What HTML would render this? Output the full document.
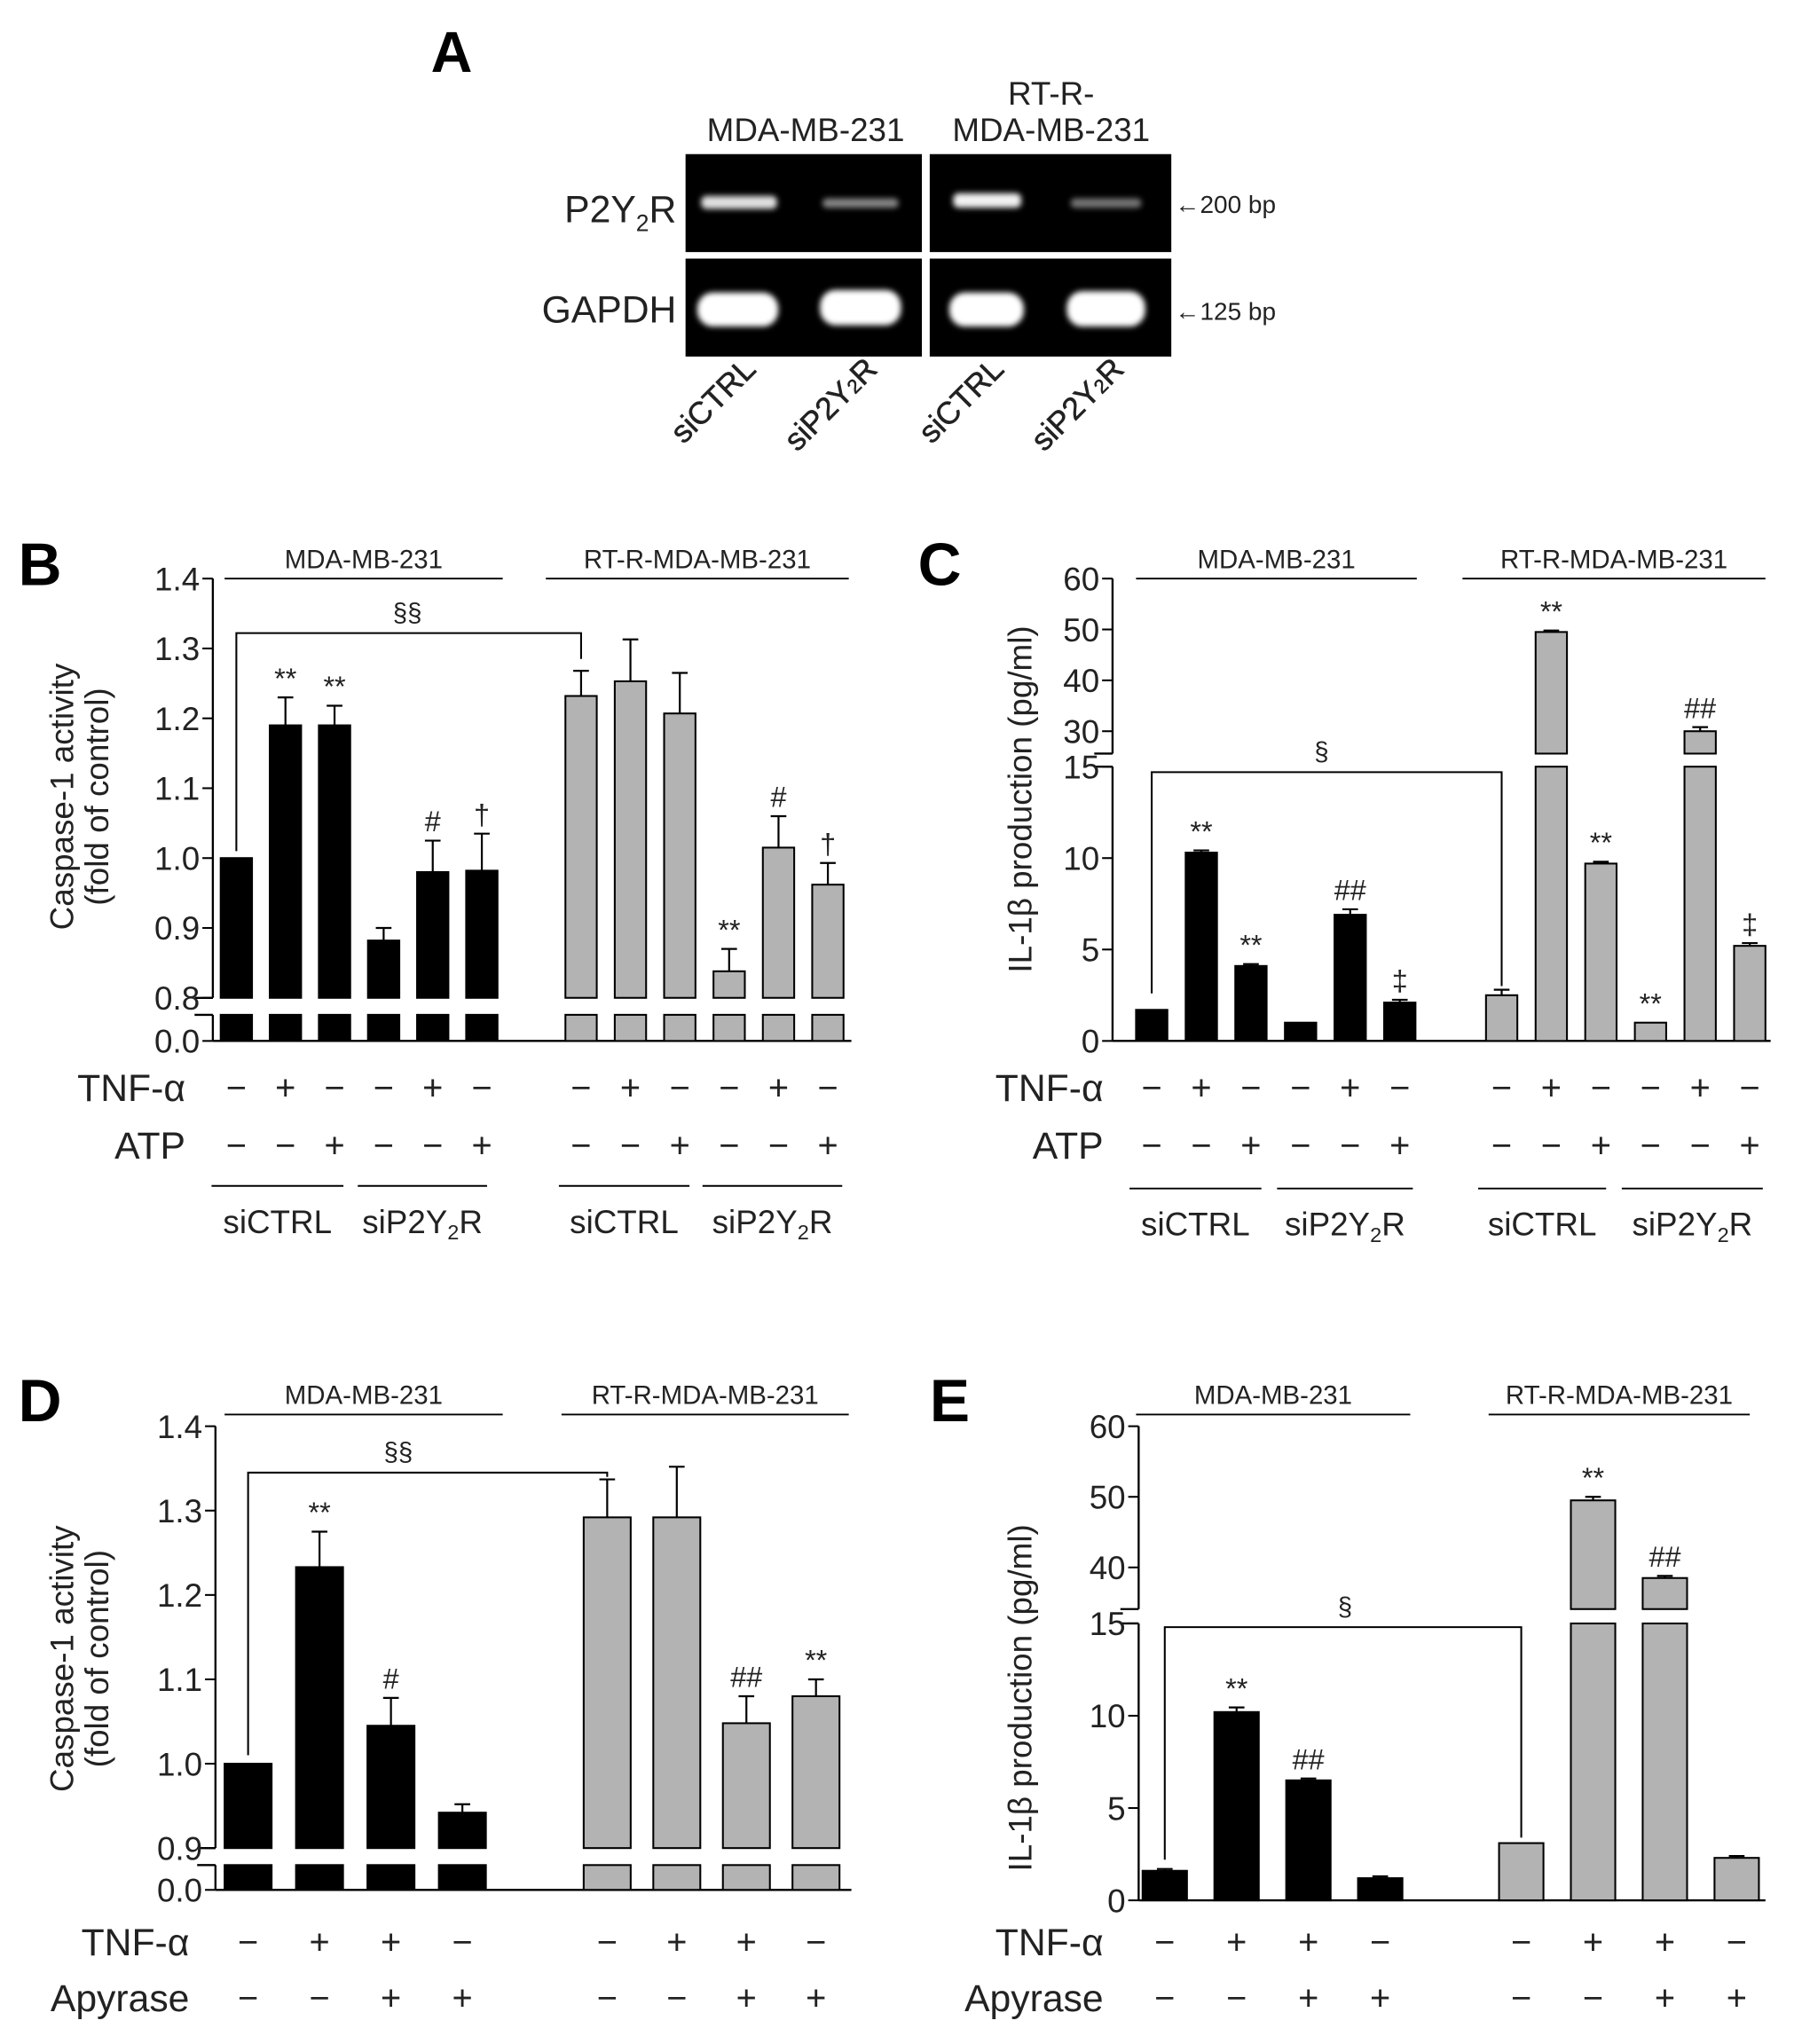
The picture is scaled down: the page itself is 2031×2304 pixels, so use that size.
<!DOCTYPE html>
<html><head><meta charset="utf-8">
<style>
html,body{margin:0;padding:0;background:#fff;}
svg{display:block;font-family:"Liberation Sans",Arial,sans-serif;}
</style></head>
<body>
<svg id="fig" width="2031" height="2304" viewBox="0 0 1380 1565" preserveAspectRatio="none" xmlns="http://www.w3.org/2000/svg">
<defs>
<filter id="blur" x="-30%" y="-80%" width="160%" height="260%"><feGaussianBlur stdDeviation="2.2"/></filter>
</defs>
<g>
<text x="330" y="55" font-size="44" font-weight="bold">A</text>
<text x="617" y="108" font-size="25" text-anchor="middle" fill="#222">MDA-MB-231</text>
<text x="805" y="80" font-size="25" text-anchor="middle" fill="#222">RT-R-</text>
<text x="805" y="108" font-size="25" text-anchor="middle" fill="#222">MDA-MB-231</text>
<rect x="525" y="118" width="181" height="75" fill="#000"/>
<rect x="712" y="118" width="185" height="75" fill="#000"/>
<rect x="525" y="198" width="181" height="75" fill="#000"/>
<rect x="712" y="198" width="185" height="75" fill="#000"/>
<g filter="url(#blur)">
<rect x="537" y="150" width="58" height="10" rx="4" fill="#e0e0e0"/>
<rect x="630" y="152" width="58" height="7" rx="3" fill="#888"/>
<rect x="730" y="148" width="52" height="11" rx="4" fill="#f2f2f2"/>
<rect x="820" y="152" width="54" height="7" rx="3" fill="#777"/>
<rect x="534" y="224" width="62" height="26" rx="12" fill="#fff"/>
<rect x="628" y="222" width="62" height="27" rx="12" fill="#fff"/>
<rect x="727" y="224" width="57" height="26" rx="12" fill="#fff"/>
<rect x="817" y="223" width="60" height="27" rx="12" fill="#fff"/>
</g>
<text x="518" y="170" font-size="29" text-anchor="end" fill="#222">P2Y<tspan font-size="18" dy="7">2</tspan><tspan dy="-7">R</tspan></text>
<text x="518" y="247" font-size="29" text-anchor="end" fill="#222">GAPDH</text>
<text x="900" y="163" font-size="19" fill="#222">←200 bp</text>
<text x="900" y="245" font-size="19" fill="#222">←125 bp</text>
<text transform="translate(580,284) rotate(-45)" font-size="24" text-anchor="end" fill="#222" stroke="#222" stroke-width="0.4">siCTRL</text>
<text transform="translate(673,284) rotate(-45)" font-size="24" text-anchor="end" fill="#222" stroke="#222" stroke-width="0.4">siP2Y<tspan font-size="15">2</tspan>R</text>
<text transform="translate(770,284) rotate(-45)" font-size="24" text-anchor="end" fill="#222" stroke="#222" stroke-width="0.4">siCTRL</text>
<text transform="translate(862,284) rotate(-45)" font-size="24" text-anchor="end" fill="#222" stroke="#222" stroke-width="0.4">siP2Y<tspan font-size="15">2</tspan>R</text>
</g>
<g id="charts"></g>
</svg>
<script>
// ---------- Panel B data (Caspase-1, siRNA) ----------
const bValues = [1.0, 1.19, 1.19, 0.882, 0.98, 0.982, 1.232, 1.253, 1.207, 0.838, 1.015, 0.962];
const bErrors = [0, 0.04, 0.028, 0.018, 0.045, 0.053, 0.036, 0.06, 0.058, 0.032, 0.045, 0.031];
const bMarks = ['', '**', '**', '', '#', '†', '', '', '', '**', '#', '†'];
const bTnf = ['−','+','−','−','+','−','−','+','−','−','+','−'];
const bAtp = ['−','−','+','−','−','+','−','−','+','−','−','+'];
const bTicks = [0.0, 0.8, 0.9, 1.0, 1.1, 1.2, 1.3, 1.4];
const bTickLabels = ['0.0','0.8','0.9','1.0','1.1','1.2','1.3','1.4'];
// ---------- Panel C data (IL-1b, siRNA) ----------
const cValues = [1.7, 10.3, 4.1, 1.0, 6.9, 2.1, 2.5, 49.5, 9.7, 1.0, 30.0, 5.2];
const cErrors = [0, 0.12, 0.1, 0, 0.3, 0.15, 0.3, 0.3, 0.1, 0, 0.8, 0.15];
const cMarks = ['', '**', '**', '', '##', '‡', '', '**', '**', '**', '##', '‡'];
const cTnf = ['−','+','−','−','+','−','−','+','−','−','+','−'];
const cAtp = ['−','−','+','−','−','+','−','−','+','−','−','+'];
const cTicks = [0, 5, 10, 15, 30, 40, 50, 60];
const cTickLabels = ['0','5','10','15','30','40','50','60'];
// ---------- Panel D data (Caspase-1, apyrase) ----------
const dValues = [1.0, 1.233, 1.045, 0.942, 1.292, 1.292, 1.048, 1.08];
const dErrors = [0, 0.042, 0.033, 0.01, 0.045, 0.06, 0.032, 0.02];
const dMarks = ['', '**', '#', '', '', '', '##', '**'];
const dTnf = ['−','+','+','−','−','+','+','−'];
const dApy = ['−','−','+','+','−','−','+','+'];
const dTicks = [0.0, 0.9, 1.0, 1.1, 1.2, 1.3, 1.4];
const dTickLabels = ['0.0','0.9','1.0','1.1','1.2','1.3','1.4'];
// ---------- Panel E data (IL-1b, apyrase) ----------
const eValues = [1.6, 10.2, 6.5, 1.2, 3.1, 49.5, 38.5, 2.3];
const eErrors = [0.1, 0.25, 0.1, 0.1, 0, 0.5, 0.3, 0.1];
const eMarks = ['', '**', '##', '', '', '**', '##', ''];
const eTnf = ['−','+','+','−','−','+','+','−'];
const eApy = ['−','−','+','+','−','−','+','+'];
const eTicks = [0, 5, 10, 15, 40, 50, 60];
const eTickLabels = ['0','5','10','15','40','50','60'];

const NS = 'http://www.w3.org/2000/svg';
const root = document.getElementById('charts');
function mk(tag, attrs, parent, txt) {
  const e = document.createElementNS(NS, tag);
  for (const k in attrs) e.setAttribute(k, attrs[k]);
  if (txt !== undefined) e.textContent = txt;
  (parent || root).appendChild(e);
  return e;
}
function makeScale(pieces) {
  return function (v) {
    let p = pieces[0];
    for (const q of pieces) if (v >= q.v0 && v <= q.v1) p = q;
    if (v > pieces[pieces.length - 1].v1) p = pieces[pieces.length - 1];
    return p.y0 + (v - p.v0) / (p.v1 - p.v0) * (p.y1 - p.y0);
  };
}
function pieceY(p, v) { return p.y0 + (v - p.v0) / (p.v1 - p.v0) * (p.y1 - p.y0); }
function drawPanel(cfg) {
  const g = mk('g', {});
  
  
  const y = makeScale(cfg.pieces);
  const L = mk('text', {x: cfg.letterX, y: cfg.letterY, 'font-size': 46, 'font-weight': 'bold'}, g, cfg.letter);
  
  
  cfg.pieces.forEach((p, i) => {
    const ln = mk('line', {x1: cfg.axisX, x2: cfg.axisX, y1: p.y0, y2: p.y1, stroke: '#000', 'stroke-width': 1.6}, g);
    
    
    if (i > 0) {
      const c1 = mk('line', {x1: cfg.axisX - 14, x2: cfg.axisX, y1: p.y0, y2: p.y0, stroke: '#000', 'stroke-width': 1.6}, g);
      
      
    }
    if (i < cfg.pieces.length - 1) {
      const c2 = mk('line', {x1: cfg.axisX - 14, x2: cfg.axisX, y1: p.y1, y2: p.y1, stroke: '#000', 'stroke-width': 1.6}, g);
      
      
    }
  });
  const xa = mk('line', {x1: cfg.axisX, x2: cfg.axisEnd, y1: y(0), y2: y(0), stroke: '#000', 'stroke-width': 1.6}, g);
  
  
  cfg.ticks.forEach((t, i) => {
    const ty = y(t);
    const tk = mk('line', {x1: cfg.axisX - 8, x2: cfg.axisX, y1: ty, y2: ty, stroke: '#000', 'stroke-width': 1.4}, g);
    
    
    const tl = mk('text', {x: cfg.axisX - 10, y: ty + 9, 'font-size': 25, 'text-anchor': 'end', fill: '#222'}, g, cfg.tickLabels[i]);
    
    
  });
  cfg.yTitle.forEach((t, i) => {
    const tt = mk('text', {transform: `translate(${cfg.yTitleX + i * 27},${cfg.yTitleY}) rotate(-90)`, 'font-size': 25, 'text-anchor': 'middle', fill: '#222'}, g, t);
    
    
  });
  cfg.headers.forEach(h => {
    const ht = mk('text', {x: (h.x1 + h.x2) / 2, y: cfg.headerY - 8, 'font-size': 20, 'text-anchor': 'middle', fill: '#222'}, g, h.t);
    
    
    const hl = mk('line', {x1: h.x1, x2: h.x2, y1: cfg.headerY, y2: cfg.headerY, stroke: '#000', 'stroke-width': 1.3}, g);
    
    
  });
  cfg.values.forEach((v, i) => {
    const cx = cfg.xPos(i);
    const fill = i < cfg.nBlack ? '#000' : '#b3b3b3';
    cfg.pieces.forEach(p => {
      if (v <= p.v0 && p.v0 > 0) return;
      const top = pieceY(p, Math.min(v, p.v1));
      const bot = p.y0;
      const r = mk('rect', {x: cx - cfg.barW / 2, y: top, width: cfg.barW, height: Math.max(0, bot - top), fill: fill, stroke: '#000', 'stroke-width': 1.4}, g);
      
      
    });
    const err = cfg.errors[i];
    const et = y(v + err);
    if (err > 0) {
      const el = mk('line', {x1: cx, x2: cx, y1: y(v), y2: et, stroke: '#000', 'stroke-width': 1.5}, g);
      
      
      const ec = mk('line', {x1: cx - 6, x2: cx + 6, y1: et, y2: et, stroke: '#000', 'stroke-width': 1.5}, g);
      
      
    }
    if (cfg.marks[i]) {
      const mt = mk('text', {x: cx, y: et - 7, 'font-size': 22, 'text-anchor': 'middle', fill: '#222'}, g, cfg.marks[i]);
      
      
    }
    cfg.rows.forEach(row => {
      const s = mk('text', {x: cx, y: row.y + 9, 'font-size': 27, 'text-anchor': 'middle', fill: '#222'}, g, row.signs[i]);
      
      
    });
  });
  cfg.rows.forEach(row => {
    const rl = mk('text', {x: cfg.rowLabelX, y: row.y + 10, 'font-size': 29, 'text-anchor': 'end', fill: '#222'}, g, row.label);
    
    
  });
  const b = cfg.bracket;
  const bx1 = cfg.xPos(b.i1), bx2 = cfg.xPos(b.i2), byTop = y(b.level);
  const bp = mk('path', {d: `M${bx1},${y(b.leftEnd)} L${bx1},${byTop} L${bx2},${byTop} L${bx2},${y(b.rightEnd)}`, fill: 'none', stroke: '#000', 'stroke-width': 1.4}, g);
  
  
  const bt = mk('text', {x: b.labelX, y: byTop - 9, 'font-size': 20, 'text-anchor': 'middle', fill: '#222'}, g, b.label);
  
  
  (cfg.groups || []).forEach(gr => {
    const gl = mk('line', {x1: gr.x1, x2: gr.x2, y1: cfg.groupY, y2: cfg.groupY, stroke: '#000', 'stroke-width': 1.3}, g);
    
    
    const gt = mk('text', {x: (gr.x1 + gr.x2) / 2, y: cfg.groupY + 36, 'font-size': 25, 'text-anchor': 'middle', fill: '#222'}, g);
    
    
    if (gr.t === 'si') {
      gt.appendChild(document.createTextNode('siP2Y'));
      mk('tspan', {'font-size': 16, dy: 5}, gt, '2');
      mk('tspan', {dy: -5}, gt, 'R');
    } else gt.textContent = gr.t;
  });
}

drawPanel({
  name: 'panel-b-chart', letter: 'B', letterX: 14, letterY: 448,
  axisX: 163, axisEnd: 652,
  pieces: [{v0: 0, v1: 0.8, y0: 797, y1: 777}, {v0: 0.8, v1: 1.4, y0: 764, y1: 443}],
  ticks: bTicks, tickLabels: bTickLabels,
  values: bValues, errors: bErrors, marks: bMarks, nBlack: 6, barW: 24,
  xPos: i => i < 6 ? 181 + i * 37.6 : 445 + (i - 6) * 37.8,
  yTitle: ['Caspase-1 activity', '(fold of control)'], yTitleX: 56, yTitleY: 610,
  headers: [{x1: 172, x2: 385, t: 'MDA-MB-231'}, {x1: 418, x2: 650, t: 'RT-R-MDA-MB-231'}], headerY: 443,
  rows: [{y: 833, label: 'TNF-α', signs: bTnf}, {y: 877, label: 'ATP', signs: bAtp}], rowLabelX: 142,
  bracket: {i1: 0, i2: 6, level: 1.322, leftEnd: 1.01, rightEnd: 1.285, label: '§§', labelX: 312},
  groups: [{x1: 162, x2: 263, t: 'siCTRL'}, {x1: 274, x2: 373, t: 'si'}, {x1: 428, x2: 528, t: 'siCTRL'}, {x1: 538, x2: 645, t: 'si'}], groupY: 908
});
drawPanel({
  name: 'panel-c-chart', letter: 'C', letterX: 703, letterY: 448,
  axisX: 852, axisEnd: 1356,
  pieces: [{v0: 0, v1: 15, y0: 797, y1: 587}, {v0: 25.6, v1: 60, y0: 577, y1: 443}],
  ticks: cTicks, tickLabels: cTickLabels,
  values: cValues, errors: cErrors, marks: cMarks, nBlack: 6, barW: 24,
  xPos: i => i < 6 ? 882 + i * 38 : 1150 + (i - 6) * 38,
  yTitle: ['IL-1β production (pg/ml)'], yTitleX: 790, yTitleY: 612,
  headers: [{x1: 870, x2: 1085, t: 'MDA-MB-231'}, {x1: 1120, x2: 1352, t: 'RT-R-MDA-MB-231'}], headerY: 443,
  rows: [{y: 833, label: 'TNF-α', signs: cTnf}, {y: 877, label: 'ATP', signs: cAtp}], rowLabelX: 845,
  bracket: {i1: 0, i2: 6, level: 14.7, leftEnd: 2.6, rightEnd: 3.0, label: '§', labelX: 1012},
  groups: [{x1: 865, x2: 966, t: 'siCTRL'}, {x1: 978, x2: 1082, t: 'si'}, {x1: 1132, x2: 1230, t: 'siCTRL'}, {x1: 1242, x2: 1350, t: 'si'}], groupY: 910
});
drawPanel({
  name: 'panel-d-chart', letter: 'D', letterX: 14, letterY: 1088,
  axisX: 165, axisEnd: 652,
  pieces: [{v0: 0, v1: 0.9, y0: 1447, y1: 1428}, {v0: 0.9, v1: 1.4, y0: 1415, y1: 1092}],
  ticks: dTicks, tickLabels: dTickLabels,
  values: dValues, errors: dErrors, marks: dMarks, nBlack: 4, barW: 36,
  xPos: i => i < 4 ? 190 + i * 54.7 : 465 + (i - 4) * 53.3,
  yTitle: ['Caspase-1 activity', '(fold of control)'], yTitleX: 56, yTitleY: 1270,
  headers: [{x1: 172, x2: 385, t: 'MDA-MB-231'}, {x1: 430, x2: 650, t: 'RT-R-MDA-MB-231'}], headerY: 1083,
  rows: [{y: 1487, label: 'TNF-α', signs: dTnf}, {y: 1530, label: 'Apyrase', signs: dApy}], rowLabelX: 145,
  bracket: {i1: 0, i2: 4, level: 1.345, leftEnd: 1.01, rightEnd: 1.34, label: '§§', labelX: 305}
});
drawPanel({
  name: 'panel-e-chart', letter: 'E', letterX: 712, letterY: 1088,
  axisX: 872, axisEnd: 1352,
  pieces: [{v0: 0, v1: 15, y0: 1455, y1: 1243}, {v0: 34.1, v1: 60, y0: 1232, y1: 1092}],
  ticks: eTicks, tickLabels: eTickLabels,
  values: eValues, errors: eErrors, marks: eMarks, nBlack: 4, barW: 34,
  xPos: i => i < 4 ? 892 + i * 55 : 1165 + (i - 4) * 55,
  yTitle: ['IL-1β production (pg/ml)'], yTitleX: 790, yTitleY: 1300,
  headers: [{x1: 870, x2: 1080, t: 'MDA-MB-231'}, {x1: 1140, x2: 1340, t: 'RT-R-MDA-MB-231'}], headerY: 1083,
  rows: [{y: 1487, label: 'TNF-α', signs: eTnf}, {y: 1530, label: 'Apyrase', signs: eApy}], rowLabelX: 845,
  bracket: {i1: 0, i2: 4, level: 14.8, leftEnd: 2.2, rightEnd: 3.4, label: '§', labelX: 1030}
});
</script>
</body></html>
